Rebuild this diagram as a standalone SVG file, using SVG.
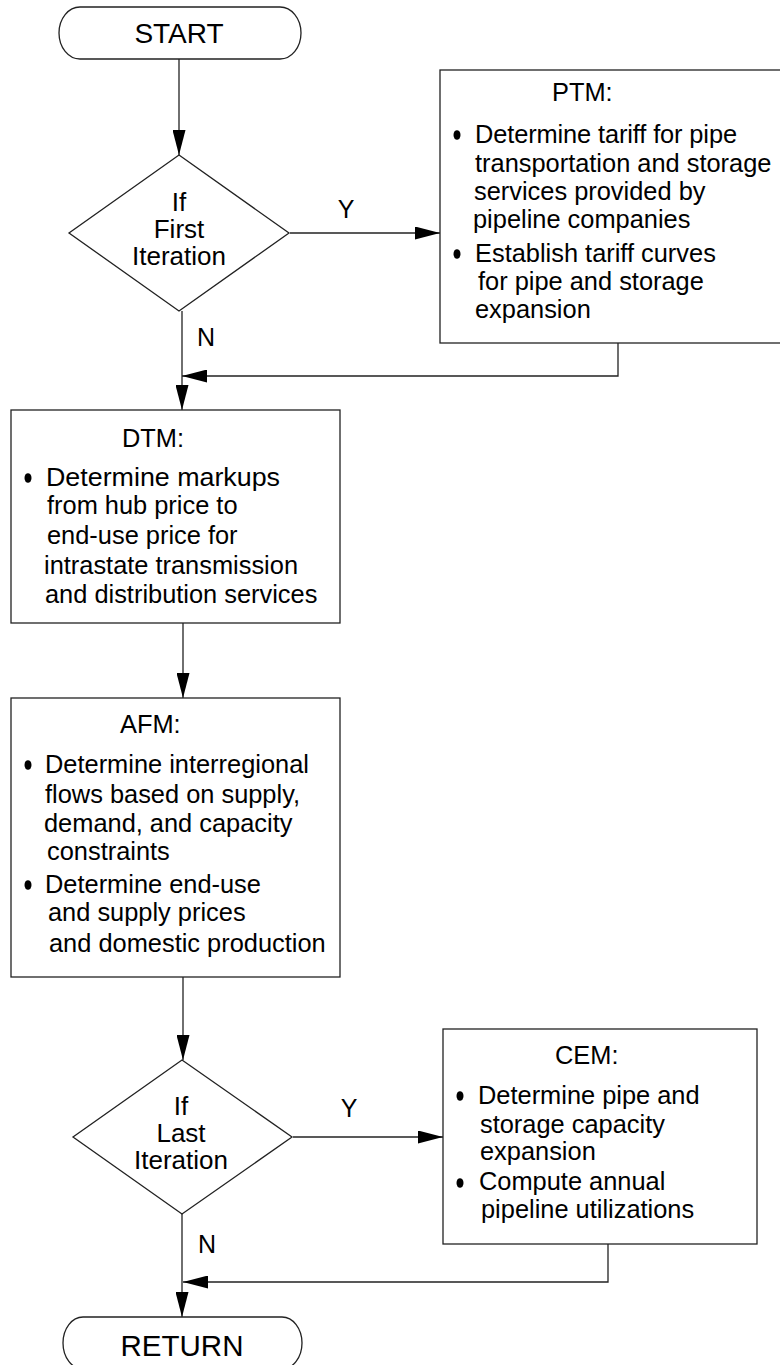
<svg xmlns="http://www.w3.org/2000/svg" width="780" height="1365" viewBox="0 0 780 1365">
<defs>
<marker id="ah" markerUnits="userSpaceOnUse" markerWidth="25" markerHeight="13" refX="25" refY="6.5" orient="auto">
<path d="M0,0 L25,6.5 L0,13 Z" fill="#000"/>
</marker>
<style>
.shape{fill:#fff;stroke:#222;stroke-width:1.3}
.conn{fill:none;stroke:#222;stroke-width:1.3}
text{font-family:"Liberation Sans",Arial,Helvetica,sans-serif;font-size:25.4px;fill:#000}
.c{text-anchor:middle}
.dt{font-size:26px}
.lbl{font-size:25px}
.bul{fill:#000;stroke:none}
</style>
</defs>
<rect width="780" height="1365" fill="#fff"/>
<g id="connectors">
<line class="conn" x1="179" y1="59" x2="179" y2="155" marker-end="url(#ah)"/>
<line class="conn" x1="290" y1="233" x2="440" y2="233" marker-end="url(#ah)"/>
<line class="conn" x1="182" y1="311" x2="182" y2="410" marker-end="url(#ah)"/>
<polyline class="conn" points="618,343 618,376 182,376" marker-end="url(#ah)"/>
<line class="conn" x1="183" y1="623" x2="183" y2="698" marker-end="url(#ah)"/>
<line class="conn" x1="183" y1="977" x2="183" y2="1060" marker-end="url(#ah)"/>
<line class="conn" x1="293" y1="1137" x2="443" y2="1137" marker-end="url(#ah)"/>
<line class="conn" x1="182" y1="1214" x2="182" y2="1317" marker-end="url(#ah)"/>
<polyline class="conn" points="608,1244 608,1282 183,1282" marker-end="url(#ah)"/>
<text x="346" y="218" class="c lbl">Y</text>
<text x="197" y="346" class="lbl">N</text>
<text x="349" y="1117" class="c lbl">Y</text>
<text x="198" y="1253" class="lbl">N</text>
</g>
<g id="start">
<path class="shape" d="M80,7 H280 A21,26 0 0 1 280,59 H80 A21,26 0 0 1 80,7 Z"/>
<text x="179" y="43" class="c" style="font-size:28px">START</text>
</g>
<g id="decision1">
<polygon class="shape" points="179,155 289,233 179,311 69,233"/>
<text x="179" y="211" class="c dt">If</text>
<text x="179" y="238" class="c dt">First</text>
<text x="179" y="265" class="c dt">Iteration</text>
</g>
<g id="ptm">
<rect class="shape" x="440" y="70" width="345" height="273"/>
<text x="552" y="101">PTM:</text>
<ellipse class="bul" cx="457" cy="135" rx="3.5" ry="4.8"/>
<text x="475" y="143" textLength="262" lengthAdjust="spacing">Determine tariff for pipe</text>
<text x="475" y="172">transportation and storage</text>
<text x="474" y="200">services provided by</text>
<text x="473" y="228">pipeline companies</text>
<ellipse class="bul" cx="457" cy="254" rx="3.5" ry="4.8"/>
<text x="475" y="262">Establish tariff curves</text>
<text x="478" y="290">for pipe and storage</text>
<text x="475" y="318">expansion</text>
</g>
<g id="dtm">
<rect class="shape" x="11" y="410" width="329" height="213"/>
<text x="122" y="447">DTM:</text>
<ellipse class="bul" cx="28" cy="478" rx="3.5" ry="4.8"/>
<text x="46" y="486" textLength="234" lengthAdjust="spacingAndGlyphs">Determine markups</text>
<text x="47" y="514">from hub price to</text>
<text x="47" y="544">end-use price for</text>
<text x="44" y="574">intrastate transmission</text>
<text x="45" y="603">and distribution services</text>
</g>
<g id="afm">
<rect class="shape" x="11" y="698" width="329" height="279"/>
<text x="120" y="733">AFM:</text>
<ellipse class="bul" cx="28" cy="765" rx="3.5" ry="4.8"/>
<text x="45" y="773">Determine interregional</text>
<text x="45" y="803">flows based on supply,</text>
<text x="44" y="832">demand, and capacity</text>
<text x="47" y="860">constraints</text>
<ellipse class="bul" cx="28" cy="885" rx="3.5" ry="4.8"/>
<text x="45" y="893">Determine end-use</text>
<text x="48" y="921">and supply prices</text>
<text x="49" y="952">and domestic production</text>
</g>
<g id="decision2">
<polygon class="shape" points="182,1060 292,1137 182,1214 73,1137"/>
<text x="181" y="1115" class="c dt">If</text>
<text x="181" y="1142" class="c dt">Last</text>
<text x="181" y="1169" class="c dt">Iteration</text>
</g>
<g id="cem">
<rect class="shape" x="443" y="1029" width="314" height="215"/>
<text x="555" y="1064">CEM:</text>
<ellipse class="bul" cx="460" cy="1096" rx="3.5" ry="4.8"/>
<text x="478" y="1104">Determine pipe and</text>
<text x="480" y="1133">storage capacity</text>
<text x="480" y="1160">expansion</text>
<ellipse class="bul" cx="460" cy="1183" rx="3.5" ry="4.8"/>
<text x="479" y="1190">Compute annual</text>
<text x="481" y="1218">pipeline utilizations</text>
</g>
<g id="return">
<path class="shape" d="M83,1317 H282 A20,26 0 0 1 282,1369 H83 A20,26 0 0 1 83,1317 Z"/>
<text x="182" y="1356" class="c" style="font-size:29.5px">RETURN</text>
</g>
</svg>
